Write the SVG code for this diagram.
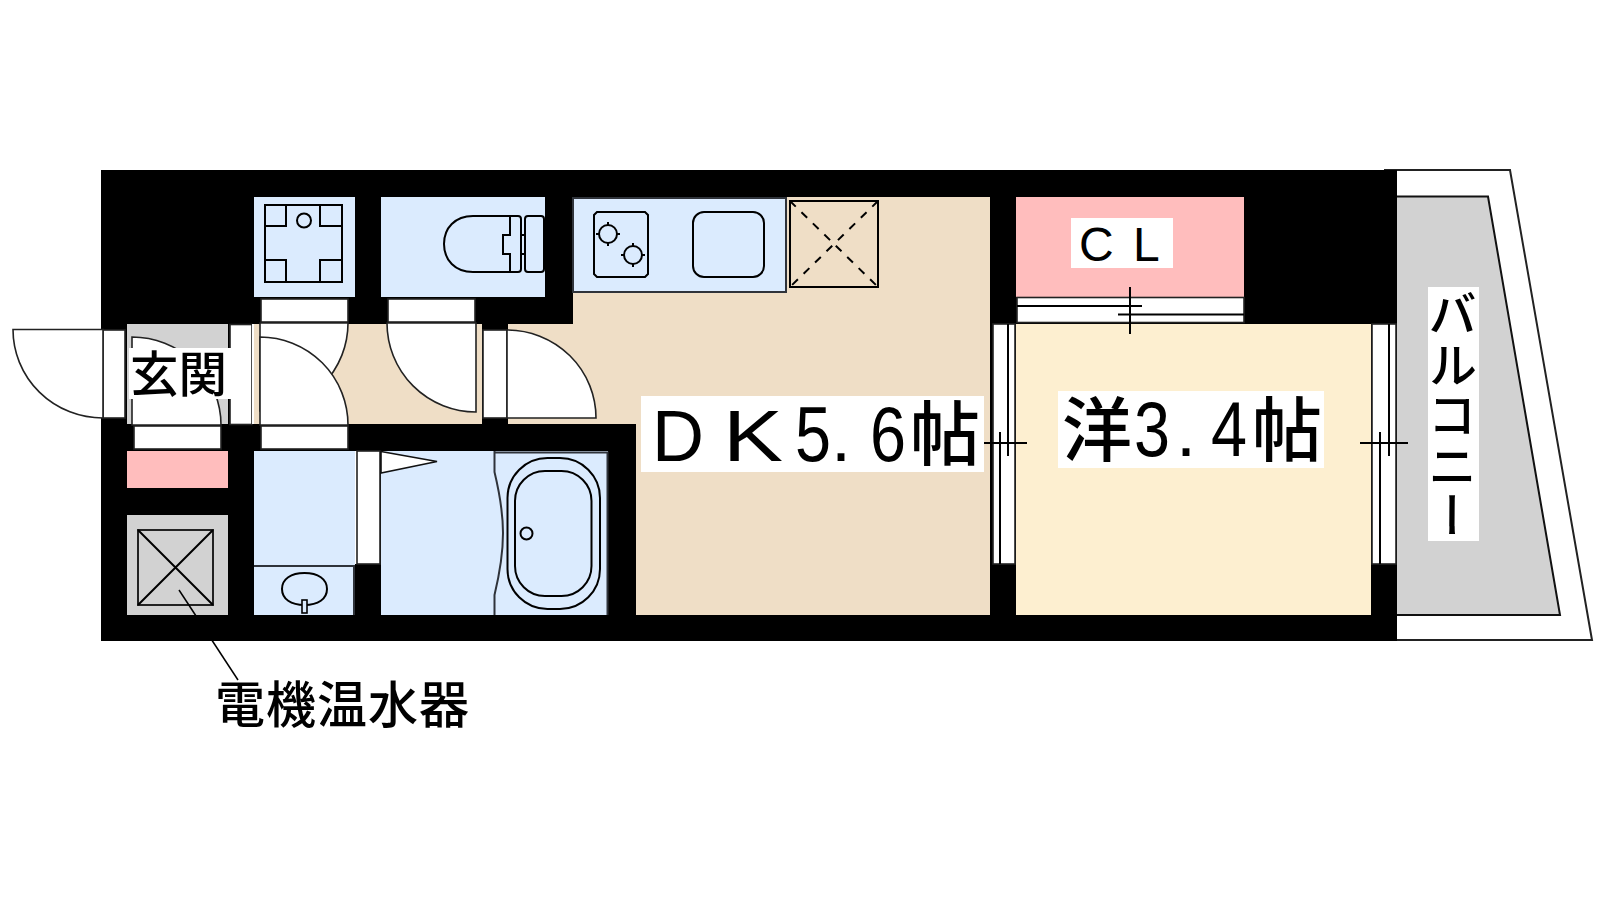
<svg xmlns="http://www.w3.org/2000/svg" xmlns:xlink="http://www.w3.org/1999/xlink" width="1600" height="900" viewBox="0 0 1600 900">
<style>
.l{fill:none;stroke:#000;stroke-width:2}
.g{fill:none;stroke:#2f333a;stroke-width:2}
.w{fill:#fff;stroke:#222;stroke-width:1.6}
.blue{fill:#dbebfe}
.t{font-family:"Noto Sans CJK JP","Liberation Sans",sans-serif;fill:#000;font-weight:500}
.a{font-family:"Liberation Sans",sans-serif;font-weight:400}
.n{font-family:"Liberation Sans",sans-serif;font-weight:400}
</style>
<defs>
<g id="burner"><circle r="9" class="l"/><path d="M0-12V-9M0 9V12M-12 0H-9M9 0H12" class="l"/></g>
</defs>
<rect width="1600" height="900" fill="#fff"/>
<g id="balcony">
<polygon points="1385,170 1510,170 1592,640 1385,640" fill="#fff" stroke="#222" stroke-width="2"/>
<polygon points="1390,196.500 1488,196.500 1560,615 1390,615" fill="#d2d2d2" stroke="#111" stroke-width="2"/>
</g>
<rect id="walls" x="101" y="170" width="1296" height="471" fill="#000"/>
<g id="floors">
<polygon points="573,197 990,197 990,615 636,615 636,424 254,424 254,324 573,324" fill="#efdec6"/>
<rect x="482" y="324" width="26" height="100" fill="#000"/>
<rect x="360" y="297" width="213" height="27" fill="#000"/>
<rect x="1016" y="324" width="355" height="291" fill="#fdefd0"/>
</g>
<g id="washer-pan">
<rect x="254" y="197" width="101" height="100" class="blue"/>
<rect x="265" y="205" width="77" height="77" class="l"/>
<path d="M265 226H286V205M342 226H320V205M265 260H286V282M342 260H320V282" class="l"/>
<circle cx="304" cy="220.500" r="7" class="l"/>
</g>
<g id="toilet">
<rect x="381" y="197" width="164" height="100" class="blue"/>
<path d="M510 216H473C455 216 444 228 444 244C444 260 455 272 473 272H510M510 216H518Q521 216 521 219V269Q521 272 518 272H510M510 216V235H503V254H510V272M521 235H525M521 254H525" class="l"/>
<rect x="525" y="216" width="19" height="56" rx="3" class="l"/>
</g>
<g id="kitchen">
<rect x="573" y="198" width="213" height="94" fill="#dbebfe" stroke="#2f333a" stroke-width="2"/>
<path d="M597 212H645L648 215V274L645 277H597L594 274V215Z" class="l"/>
<rect x="693" y="212" width="71" height="65" rx="11" class="l"/>
<use xlink:href="#burner" href="#burner" x="608" y="234"/>
<use xlink:href="#burner" href="#burner" x="633" y="255"/>
<rect x="790" y="201" width="88" height="86" class="l"/>
<path d="M790 201L878 287M878 201L790 287" class="l" stroke-dasharray="8 8"/>
</g>
<g id="closet">
<rect x="1016" y="197" width="228" height="100" fill="#ffbdbd"/>
<rect x="1017" y="297.500" width="227" height="25" class="w"/>
<path d="M1017 306H1142M1118 314.500H1244M1130 287V334" class="l"/>
</g>
<g id="entrance">
<rect x="127" y="324" width="101" height="100" fill="#d2d2d2"/>
<rect x="230" y="324.500" width="22" height="100" class="w"/>
<rect x="252" y="324" width="2" height="100" fill="#fff"/>
<rect x="103" y="330" width="22" height="88" class="w"/>
<path d="M13 329.500H103V418A90 88.500 0 0 1 13 329.500Z" class="w"/>
<path d="M132 425V337A89 88 0 0 1 221 425Z" class="w"/>
<rect x="134" y="426" width="87" height="23" class="w"/>
</g>
<g id="hall-doors">
<rect x="261" y="299" width="87" height="23" class="w"/>
<path d="M260 323H348A88 88 0 0 1 260 411Z" class="w"/>
<path d="M260 425V337A88 88 0 0 1 348 425Z" class="w"/>
<rect x="261" y="426" width="87" height="23" class="w"/>
<rect x="388" y="299" width="87" height="23" class="w"/>
<path d="M387 323H476V412A89 89 0 0 1 387 323Z" class="w"/>
<rect x="483" y="330" width="24" height="88" class="w"/>
<path d="M507 330A89 88 0 0 1 596 418H507Z" class="w"/>
</g>
<g id="storage">
<rect x="127" y="451" width="101" height="37" fill="#ffbdbd"/>
</g>
<g id="water-heater">
<rect x="127" y="515" width="101" height="100" fill="#d2d2d2"/>
<rect x="138" y="530" width="75" height="75" fill="none" stroke="#222" stroke-width="2"/>
<path d="M138 530L213 605M213 530L138 605" class="l"/>
<path d="M179 590L238 680" fill="none" stroke="#000" stroke-width="1.500"/>
</g>
<g id="washroom">
<rect x="254" y="451" width="101" height="164" class="blue"/>
<path d="M254 566H354V615" class="g"/>
<path d="M304.500 573C318 573 327 579 327 589C327 599 318 605 304.500 605C291 605 282 599 282 589C282 579 291 573 304.500 573Z" class="l"/>
<rect x="302" y="600" width="5" height="13" fill="#dbebfe" stroke="#000" stroke-width="1.600"/>
<rect x="355" y="451" width="2" height="113" fill="#fff"/>
<rect x="357" y="451" width="23" height="113" class="w"/>
</g>
<g id="bathroom">
<rect x="381" y="451" width="227" height="164" class="blue"/>
<polygon points="381,451.500 437,461.500 381,473" fill="#fff" stroke="#111" stroke-width="1.600"/>
<path d="M494.500 451V472C500 495 503 512 503 533C503 555 500 572 494.500 595V615M494.500 452.500H607.500V615" class="g"/>
<rect x="507.500" y="458" width="92.500" height="151" rx="40" class="l"/>
<rect x="515" y="471" width="76.500" height="125" rx="30" class="l"/>
<circle cx="526.500" cy="533.500" r="6" class="l"/>
</g>
<g id="sliding-door-left">
<rect x="993" y="324" width="22" height="240" class="w"/>
<path d="M1008 324V456M1000 432V564M984 443H1027" class="l"/>
</g>
<g id="sliding-door-right">
<rect x="1372" y="324" width="24" height="240" class="w"/>
<path d="M1389 324V456M1380 432V564M1360 443H1408" class="l"/>
</g>
<g id="labels">
<rect x="129" y="348" width="103" height="51" fill="#fff"/>
<text class="t" x="130" y="392" font-size="48.500">玄関</text>
<rect x="641" y="396" width="343" height="76" fill="#fff"/>
<text class="t" y="461"><tspan class="a" font-size="72" x="652">D</tspan><tspan class="a" font-size="72" x="723" textLength="60" lengthAdjust="spacingAndGlyphs">K</tspan><tspan class="n" font-size="78" x="795" textLength="36" lengthAdjust="spacingAndGlyphs">5</tspan><tspan class="a" font-size="72" x="831">.</tspan><tspan class="n" font-size="78" x="870" textLength="36" lengthAdjust="spacingAndGlyphs">6</tspan><tspan font-size="70" x="910" y="460">帖</tspan></text>
<rect x="1058" y="391" width="266" height="77" fill="#fff"/>
<text class="t" y="456"><tspan font-size="70" x="1062" y="456">洋</tspan><tspan class="n" font-size="78" x="1134" y="456" textLength="36" lengthAdjust="spacingAndGlyphs">3</tspan><tspan class="a" font-size="72" x="1176">.</tspan><tspan class="n" font-size="78" x="1211" textLength="36" lengthAdjust="spacingAndGlyphs">4</tspan><tspan font-size="70" x="1252">帖</tspan></text>
<rect x="1071" y="218" width="102" height="50" fill="#fff"/>
<text class="a" y="261" font-size="48"><tspan x="1079">C</tspan><tspan x="1133">L</tspan></text>
<rect x="1428" y="287" width="51" height="254" fill="#fff"/>
<text class="t" x="1452.500" y="289" font-size="49" style="writing-mode:vertical-rl" letter-spacing="1.500">バルコニー</text>
<text class="t" y="723" font-size="50" x="215 266 317 368 419">電機温水器</text>
</g>
</svg>
